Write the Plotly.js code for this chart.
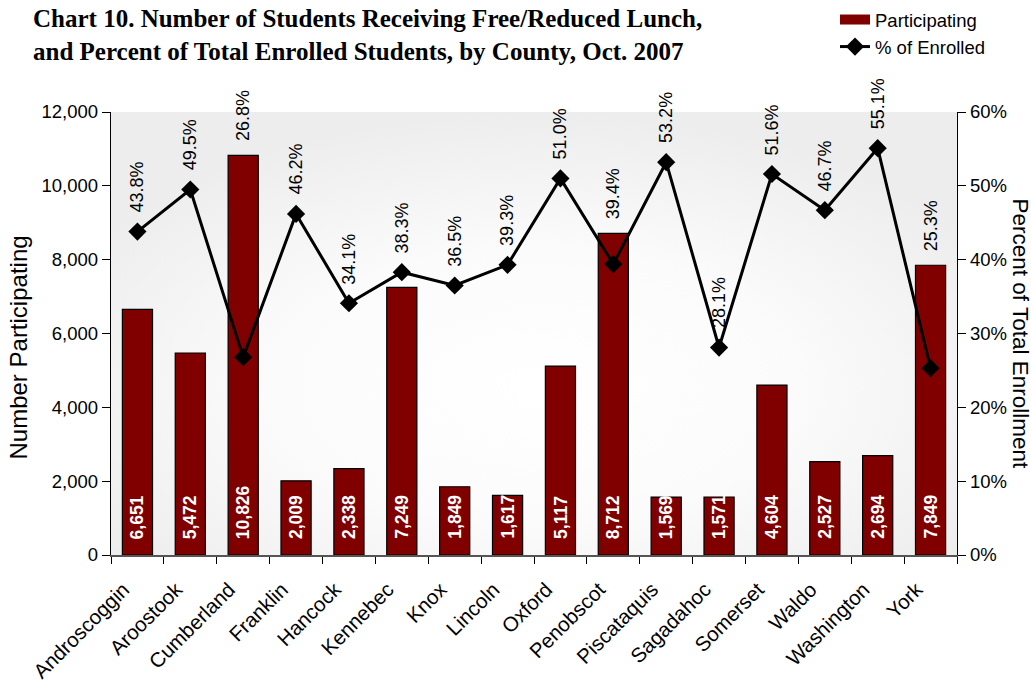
<!DOCTYPE html>
<html>
<head>
<meta charset="utf-8">
<script src="https://cdn.plot.ly/plotly-3.0.1.min.js"></script>
<style>html,body{margin:0;padding:0;background:#fff;}#chart{width:1031px;height:685px;}</style>
</head>
<body>
<div id="chart"></div>
<script>
const counties = ["Androscoggin","Aroostook","Cumberland","Franklin","Hancock","Kennebec","Knox","Lincoln","Oxford","Penobscot","Piscataquis","Sagadahoc","Somerset","Waldo","Washington","York"];
const participating = [6651,5472,10826,2009,2338,7249,1849,1617,5117,8712,1569,1571,4604,2527,2694,7849];
const pctEnrolled = [0.438,0.495,0.268,0.462,0.341,0.383,0.365,0.393,0.510,0.394,0.532,0.281,0.516,0.467,0.551,0.253];

const Y_MAX = 12000, Y2_MAX = 0.6;
const FONT = 'Liberation Sans, Arial, sans-serif';
const BAR_COLOR = '#800000';

const bgSvg = '<svg xmlns="http://www.w3.org/2000/svg" width="100" height="100" preserveAspectRatio="none"><defs><radialGradient id="g" cx="50%" cy="62%" r="62%"><stop offset="0" stop-color="#ffffff"/><stop offset="0.5" stop-color="#fbfbfb"/><stop offset="1" stop-color="#ededed"/></radialGradient></defs><rect width="100" height="100" fill="url(#g)"/></svg>';
const bgUri = 'data:image/svg+xml;base64,' + btoa(bgSvg);

const barTrace = {
  type: 'bar', name: 'Participating', x: counties, y: participating,
  marker: {color: BAR_COLOR, line: {color: '#000000', width: 1.2}},
  width: 0.57, hoverinfo: 'skip', showlegend: false
};
// legend entry for the bars (wide swatch like the original)
const barLegend = {
  type: 'scatter', mode: 'lines', name: 'Participating', x: [null], y: [null],
  line: {color: BAR_COLOR, width: 11}, hoverinfo: 'skip', legendgroup: 'a'
};
const lineTrace = {
  type: 'scatter', mode: 'lines+markers', name: '% of Enrolled', x: counties, y: pctEnrolled,
  yaxis: 'y2', line: {color: '#000000', width: 3},
  marker: {symbol: 'diamond', size: 14, color: '#000000'},
  hoverinfo: 'skip', legendgroup: 'b'
};

const annotations = [];
// percent labels: above the marker, or above the bar if the bar is taller
pctEnrolled.forEach((v, i) => {
  const barInY2 = participating[i] / Y_MAX * Y2_MAX;
  const aboveBar = barInY2 > v;
  annotations.push({
    x: counties[i], y: aboveBar ? barInY2 : v, xref: 'x', yref: 'y2',
    text: (v * 100).toFixed(1) + '%', showarrow: false, textangle: -90,
    xanchor: 'center', yanchor: 'bottom', yshift: aboveBar ? 12 : 17,
    font: {family: FONT, size: 18, color: '#000000'}
  });
});
// bar value labels at the base of the bars
participating.forEach((v, i) => {
  annotations.push({
    x: counties[i], y: 0, xref: 'x', yref: 'y',
    text: '<b>' + v.toLocaleString('en-US') + '</b>', showarrow: false, textangle: -90,
    xanchor: 'center', yanchor: 'bottom', yshift: 14,
    font: {family: FONT, size: 17.5, color: '#ffffff'}
  });
});
annotations.push({
  xref: 'paper', yref: 'paper', x: 0, y: 0.5, xshift: -93, yshift: -14, text: 'Number Participating',
  textangle: -90, showarrow: false, xanchor: 'center', yanchor: 'middle',
  font: {family: FONT, size: 24, color: '#000000'}
});
annotations.push({
  xref: 'paper', yref: 'paper', x: 1, y: 0.5, xshift: 63, text: 'Percent of Total Enrollment',
  textangle: 90, showarrow: false, xanchor: 'center', yanchor: 'middle',
  font: {family: FONT, size: 22.5, color: '#000000'}
});

const layout = {
  width: 1031, height: 685,
  margin: {l: 111, r: 74, t: 112, b: 130, autoexpand: false},
  paper_bgcolor: '#ffffff', plot_bgcolor: 'rgba(0,0,0,0)',
  font: {family: FONT, color: '#000000'},
  title: {
    text: 'Chart 10. Number of Students Receiving Free/Reduced Lunch,<br>and Percent of Total Enrolled Students, by County, Oct. 2007',
    xref: 'container', yref: 'container', x: 33/1031, xanchor: 'left', y: 1 - 27/685, yanchor: 'top',
    font: {family: 'Liberation Serif, Times New Roman, serif', size: 25, weight: 'bold', color: '#000000'}
  },
  showlegend: true,
  legend: {
    xref: 'container', yref: 'container', x: 835/1031, y: 1 - 1/685, xanchor: 'left', yanchor: 'top',
    bgcolor: 'rgba(0,0,0,0)', font: {size: 18.5, family: FONT},
    traceorder: 'grouped', tracegroupgap: 0
  },
  xaxis: {
    type: 'category', range: [-0.5, counties.length - 0.5], autorange: false,
    showline: true, linecolor: '#555555', linewidth: 1.5,
    ticks: 'outside', ticklen: 7, tickcolor: '#000000', tickson: 'boundaries',
    tickangle: -45, tickfont: {size: 20.5}, ticklabelshift: -14, ticklabelstandoff: 13,
    showgrid: false, fixedrange: true, automargin: false
  },
  yaxis: {
    range: [0, Y_MAX], dtick: 2000, tickformat: ',d', showline: true, linecolor: '#000000', linewidth: 1.2,
    ticks: 'outside', ticklen: 8, tickcolor: '#000000', showgrid: false, zeroline: false,
    tickfont: {size: 18.5}, automargin: false
  },
  yaxis2: {
    range: [0, Y2_MAX], dtick: 0.1, tickformat: '.0%', overlaying: 'y', side: 'right',
    showline: true, linecolor: '#000000', linewidth: 1.2, ticks: 'outside', ticklen: 8, tickcolor: '#000000',
    showgrid: false, zeroline: false, tickfont: {size: 18.5}, automargin: false
  },
  images: [{source: bgUri, xref: 'paper', yref: 'paper', x: 0, y: 1, sizex: 1, sizey: 1,
    sizing: 'stretch', xanchor: 'left', yanchor: 'top', layer: 'below'}],
  annotations: annotations
};

Plotly.newPlot('chart', [barTrace, barLegend, lineTrace], layout, {displayModeBar: false, staticPlot: true});
</script>
</body>
</html>
